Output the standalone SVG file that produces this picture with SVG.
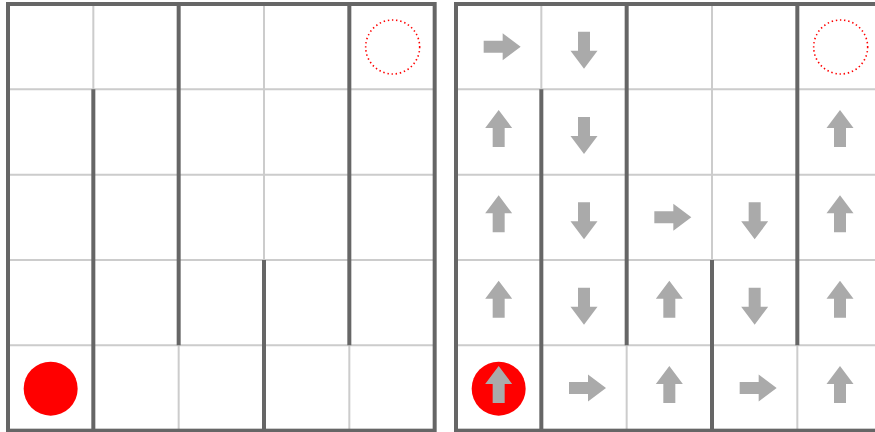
<svg xmlns="http://www.w3.org/2000/svg" xmlns:xlink="http://www.w3.org/1999/xlink" width="875" height="432" viewBox="0 0 875 432">
<style>
.grid{stroke:#cccccc;stroke-width:2;fill:none}
.wall{stroke:#666666;stroke-width:4;fill:none}
.arrow{fill:#aaaaaa}
.start{fill:#ff0000}
.goal{fill:none;stroke:#ff0000;stroke-width:1.6;stroke-dasharray:1.4 2.8}
</style>
<defs>
<g id="maze">
<path class="grid" d="M93.33,4V430.67M178.67,4V430.67M264,4V430.67M349.33,4V430.67M8,89.33H434.67M8,174.67H434.67M8,260H434.67M8,345.33H434.67"/>
<path class="wall" d="M93.33,89.33V430.67M178.67,4V345.33M264,260V430.67M349.33,4V345.33"/>
<rect class="wall" x="8" y="4" width="426.67" height="426.67"/>
<circle class="start" cx="50.67" cy="388.67" r="27"/>
<circle class="goal" cx="392.67" cy="47" r="27"/>
</g>
<path id="arrow" class="arrow" d="M-15,-6H4V-13.5L22,0L4,13.5V6H-15Z"/>
</defs>
<g id="maze-left"><use href="#maze"/></g>
<g id="maze-right"><use href="#maze" transform="translate(448,0)"/></g>
<g id="arrows">
<use href="#arrow" transform="translate(498.67,46.67)"/>
<use href="#arrow" transform="translate(584,46.67) rotate(90)"/>
<use href="#arrow" transform="translate(498.67,132) rotate(-90)"/>
<use href="#arrow" transform="translate(584,132) rotate(90)"/>
<use href="#arrow" transform="translate(840,132) rotate(-90)"/>
<use href="#arrow" transform="translate(498.67,217.33) rotate(-90)"/>
<use href="#arrow" transform="translate(584,217.33) rotate(90)"/>
<use href="#arrow" transform="translate(669.33,217.33)"/>
<use href="#arrow" transform="translate(754.67,217.33) rotate(90)"/>
<use href="#arrow" transform="translate(840,217.33) rotate(-90)"/>
<use href="#arrow" transform="translate(498.67,302.67) rotate(-90)"/>
<use href="#arrow" transform="translate(584,302.67) rotate(90)"/>
<use href="#arrow" transform="translate(669.33,302.67) rotate(-90)"/>
<use href="#arrow" transform="translate(754.67,302.67) rotate(90)"/>
<use href="#arrow" transform="translate(840,302.67) rotate(-90)"/>
<use href="#arrow" transform="translate(498.67,388) rotate(-90)"/>
<use href="#arrow" transform="translate(584,388)"/>
<use href="#arrow" transform="translate(669.33,388) rotate(-90)"/>
<use href="#arrow" transform="translate(754.67,388)"/>
<use href="#arrow" transform="translate(840,388) rotate(-90)"/>
</g>
</svg>
